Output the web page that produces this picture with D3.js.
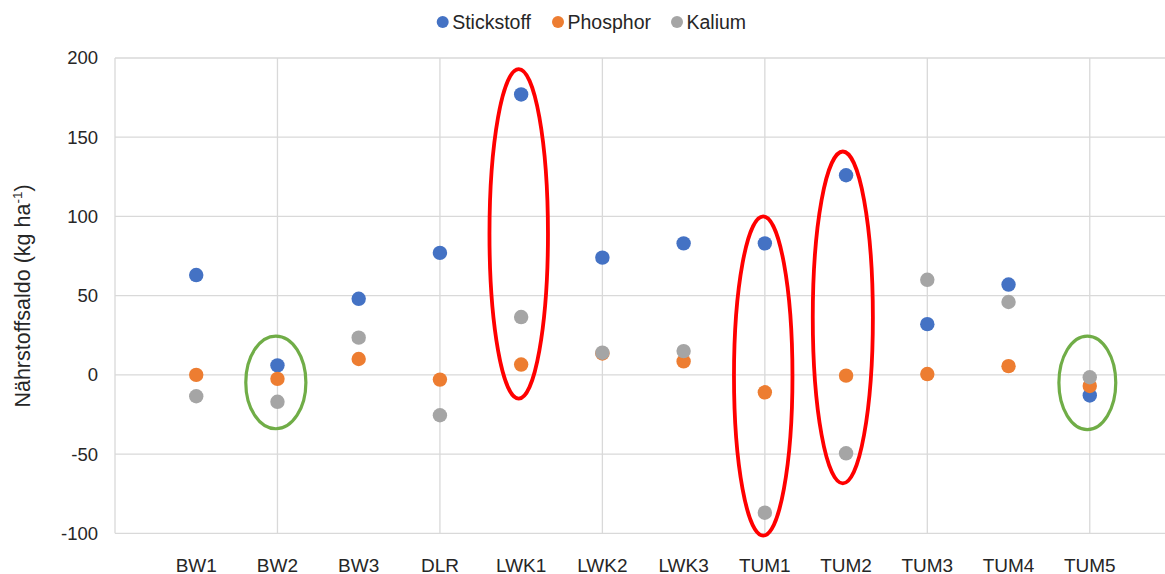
<!DOCTYPE html>
<html><head><meta charset="utf-8">
<script src="https://cdn.jsdelivr.net/npm/d3@7"></script>
<style>body{margin:0;background:#fff;} text{font-family:"Liberation Sans",Arial,sans-serif;fill:#262626;}</style>
</head><body>
<svg id="c" width="1165" height="574"></svg>
<script>
const categories = ["BW1","BW2","BW3","DLR","LWK1","LWK2","LWK3","TUM1","TUM2","TUM3","TUM4","TUM5"];
const stickstoff = [63, 6, 48, 77, 177, 74, 83, 83, 126, 32, 57, -13];
const phosphor   = [0, -2.5, 10, -3, 6.5, 13.5, 8.5, -11, -0.5, 0.5, 5.5, -7];
const kalium     = [-13.5, -17, 23.5, -25.5, 36.5, 14, 15, -87, -49.5, 60, 46, -1.5];
const yTicks = [-100, -50, 0, 50, 100, 150, 200];
const seriesNames = ["Stickstoff","Phosphor","Kalium"];
const seriesColors = ["#4472C4","#ED7D31","#A5A5A5"];
// annotation ellipses: category index, top value, bottom value, half width (category units), colour
const ringCat   = [4, 7, 8, 1, 11];
const ringTop   = [193, 100, 141, 24.5, 24.5];
const ringBot   = [-15, -101.5, -68.5, -34, -34.5];
const ringHalfW = [0.36, 0.36, 0.37, 0.37, 0.35];
const ringShift = [-0.03, -0.02, -0.04, -0.02, -0.03];
const ringColor = ["#FF0000","#FF0000","#FF0000","#70AD47","#70AD47"];

const svg = d3.select("#c");
const x = d3.scaleLinear().domain([0, 13]).range([115, 1171]);
const y = d3.scaleLinear().domain([-100, 200]).range([533.3, 58]);

// gridlines
const grid = svg.append("g");
grid.selectAll("line.h").data(yTicks).join("line")
  .attr("x1", x(0)).attr("x2", x(13)).attr("y1", d=>y(d)).attr("y2", d=>y(d))
  .attr("stroke", "#D9D9D9").attr("stroke-width", 1.3);
grid.selectAll("line.v").data([0,2,4,6,8,10,12]).join("line")
  .attr("x1", d=>x(d)).attr("x2", d=>x(d)).attr("y1", y(-100)).attr("y2", y(200))
  .attr("stroke", "#D9D9D9").attr("stroke-width", 1.3);

// y axis tick labels
const yAxis = d3.axisLeft(y).tickValues(yTicks).tickSize(0).tickPadding(17).tickFormat(d=>String(d));
const ya = svg.append("g").attr("transform", `translate(${x(0)},0)`).call(yAxis);
ya.select(".domain").remove();
ya.selectAll("text").style("font-size","18.5px").style("font-family","Liberation Sans, Arial, sans-serif").attr("fill","#262626");

// x category labels
svg.append("g").selectAll("text").data(categories).join("text")
  .attr("x", (d,i)=>x(i+1)).attr("y", 571.5).attr("text-anchor","middle")
  .style("font-size","19px").text(d=>d);

// y title
const yt = svg.append("text").attr("transform","translate(30,296) rotate(-90)")
  .attr("text-anchor","middle").style("font-size","21.5px");
yt.append("tspan").text("Nährstoffsaldo (kg ha");
yt.append("tspan").attr("dy",-8).style("font-size","13.5px").text("-1");
yt.append("tspan").attr("dy",8).text(")");

// points
const all = [stickstoff, phosphor, kalium];
all.forEach((vals, si) => {
  svg.append("g").selectAll("circle").data(vals).join("circle")
    .attr("cx", (d,i)=>x(i+1)).attr("cy", d=>y(d)).attr("r", 7.2)
    .attr("fill", seriesColors[si]);
});

// annotation ellipses
svg.append("g").selectAll("ellipse").data(ringCat).join("ellipse")
  .attr("cx", (d,i)=>x(d+1+ringShift[i]))
  .attr("cy", (d,i)=>(y(ringTop[i])+y(ringBot[i]))/2)
  .attr("rx", (d,i)=>x(ringHalfW[i])-x(0))
  .attr("ry", (d,i)=>(y(ringBot[i])-y(ringTop[i]))/2)
  .attr("fill","none").attr("stroke",(d,i)=>ringColor[i])
  .attr("stroke-width",(d,i)=>ringColor[i]==="#FF0000"?3.8:3.2);

// legend
const legX = [442.7, 558, 677];
const lg = svg.append("g");
seriesNames.forEach((n,i)=>{
  lg.append("circle").attr("cx", legX[i]).attr("cy", 22).attr("r", 6).attr("fill", seriesColors[i]);
  lg.append("text").attr("x", legX[i]+9.5).attr("y", 28.5).style("font-size","19.5px").text(n);
});
</script>
</body></html>
